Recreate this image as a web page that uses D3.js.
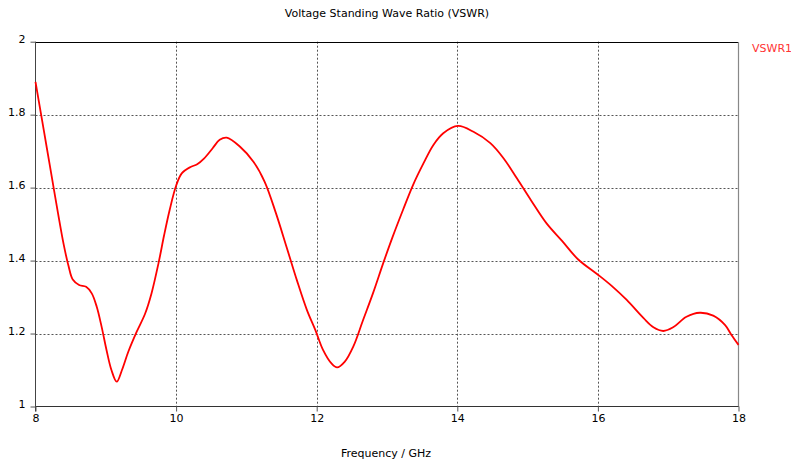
<!DOCTYPE html>
<html>
<head>
<meta charset="utf-8">
<script src="https://cdn.jsdelivr.net/npm/d3@7"></script>
<style>
  html, body { margin: 0; padding: 0; background: #fff; }
  svg { display: block; }
  text { font-family: Tahoma, Verdana, "DejaVu Sans", sans-serif; font-size: 11px; fill: #000; }
</style>
</head>
<body>
<svg id="chart" width="791" height="464"></svg>
<script>
// Frequency sweep (GHz) and measured VSWR
const freq = [8.00, 8.08, 8.16, 8.24, 8.32, 8.40, 8.47, 8.53, 8.62, 8.72, 8.80, 8.87, 8.94, 9.01, 9.08, 9.155,
  9.23, 9.32, 9.44, 9.56, 9.65, 9.75, 9.83, 9.91, 10.00, 10.08, 10.20, 10.30, 10.40, 10.52, 10.62, 10.72,
  10.91, 11.10, 11.26, 11.42, 11.57, 11.72, 11.86, 11.98, 12.09, 12.21, 12.29, 12.40, 12.52, 12.66,
  12.80, 12.95, 13.08, 13.23, 13.37, 13.52, 13.66, 13.80, 14.01, 14.23, 14.47, 14.66, 14.85, 15.05, 15.27,
  15.49, 15.72, 16.01, 16.20, 16.41, 16.65, 16.79, 16.93, 17.07, 17.26, 17.45, 17.64, 17.81, 17.90, 18.00];
const vswr = [1.890, 1.800, 1.710, 1.620, 1.530, 1.445, 1.385, 1.348, 1.333, 1.328, 1.310, 1.274, 1.219, 1.155, 1.100, 1.068,
  1.100, 1.150, 1.205, 1.255, 1.310, 1.393, 1.470, 1.540, 1.605, 1.639, 1.656, 1.664, 1.680, 1.708, 1.731, 1.737,
  1.712, 1.671, 1.616, 1.530, 1.438, 1.345, 1.265, 1.210, 1.155, 1.118, 1.107, 1.123, 1.164, 1.237,
  1.310, 1.395, 1.465, 1.540, 1.607, 1.667, 1.717, 1.749, 1.769, 1.753, 1.722, 1.680, 1.625, 1.565, 1.502,
  1.454, 1.403, 1.360, 1.330, 1.292, 1.242, 1.217, 1.207, 1.217, 1.246, 1.257, 1.249, 1.223, 1.196, 1.169];

const xTicks = [8, 10, 12, 14, 16, 18];
const yTicks = [1, 1.2, 1.4, 1.6, 1.8, 2];
const seriesName = "VSWR1";
const titleText = "Voltage Standing Wave Ratio (VSWR)";
const xLabel = "Frequency / GHz";

const svg = d3.select("#chart");
const m = { left: 35.5, right: 738.5, top: 41.7, bottom: 406.5 };

const x = d3.scaleLinear().domain([8, 18]).range([m.left, m.right]);
const y = d3.scaleLinear().domain([1, 2]).range([m.bottom, m.top]);

// dotted grid
const grid = svg.append("g").attr("stroke", "#555").attr("stroke-width", 1).attr("stroke-dasharray", "2,2");
xTicks.slice(1, -1).forEach(t => {
  grid.append("line").attr("x1", Math.round(x(t)) + 0.5).attr("x2", Math.round(x(t)) + 0.5)
    .attr("y1", m.top).attr("y2", m.bottom);
});
yTicks.slice(1, -1).forEach(t => {
  grid.append("line").attr("y1", Math.round(y(t)) + 0.5).attr("y2", Math.round(y(t)) + 0.5)
    .attr("x1", m.left).attr("x2", m.right);
});

// frame: top black, right gray
svg.append("line").attr("x1", m.left).attr("x2", m.right).attr("y1", 42.5).attr("y2", 42.5)
  .attr("stroke", "#000").attr("stroke-width", 1);
svg.append("line").attr("x1", 738.5).attr("x2", 738.5).attr("y1", 42).attr("y2", 407)
  .attr("stroke", "#888").attr("stroke-width", 1.2);

// axes
const xAxis = d3.axisBottom(x).tickValues(xTicks).tickFormat(d3.format("d")).tickSize(5).tickPadding(3);
const gx = svg.append("g").attr("transform", "translate(0,406.5)").call(xAxis);
gx.select(".domain").attr("stroke", "#333").attr("d", `M${m.left},0H${m.right}`);
gx.selectAll(".tick line").attr("stroke", "#555");
gx.selectAll("text").attr("fill", "#000");

const yAxis = d3.axisLeft(y).tickValues(yTicks).tickFormat(d => d3.format("")(+d.toFixed(1))).tickSize(5).tickPadding(5);
const gy = svg.append("g").attr("transform", "translate(35.5,0)").call(yAxis);
gy.select(".domain").attr("stroke", "#444").attr("d", `M0,${m.top}V${m.bottom + 5}`);
gy.selectAll(".tick line").attr("stroke", "#555");
gy.selectAll("text").attr("fill", "#000").attr("dy", "0.1em");
gy.attr("font-family", null).attr("font-size", null);
gx.attr("font-family", null).attr("font-size", null);

// series
const line = d3.line().x((d, i) => x(freq[i])).y(d => y(d)).curve(d3.curveCatmullRom.alpha(0.5));
svg.append("path").datum(vswr).attr("d", line)
  .attr("fill", "none").attr("stroke", "#ff0000").attr("stroke-width", 1.8).attr("stroke-linejoin", "round");

// title, axis label, legend
svg.append("text").attr("x", 387).attr("y", 17).attr("text-anchor", "middle").text(titleText);
svg.append("text").attr("x", 386).attr("y", 457).attr("text-anchor", "middle").text(xLabel);
svg.append("text").attr("x", 752).attr("y", 52).style("fill", "#ff3333").text(seriesName);
</script>
</body>
</html>
